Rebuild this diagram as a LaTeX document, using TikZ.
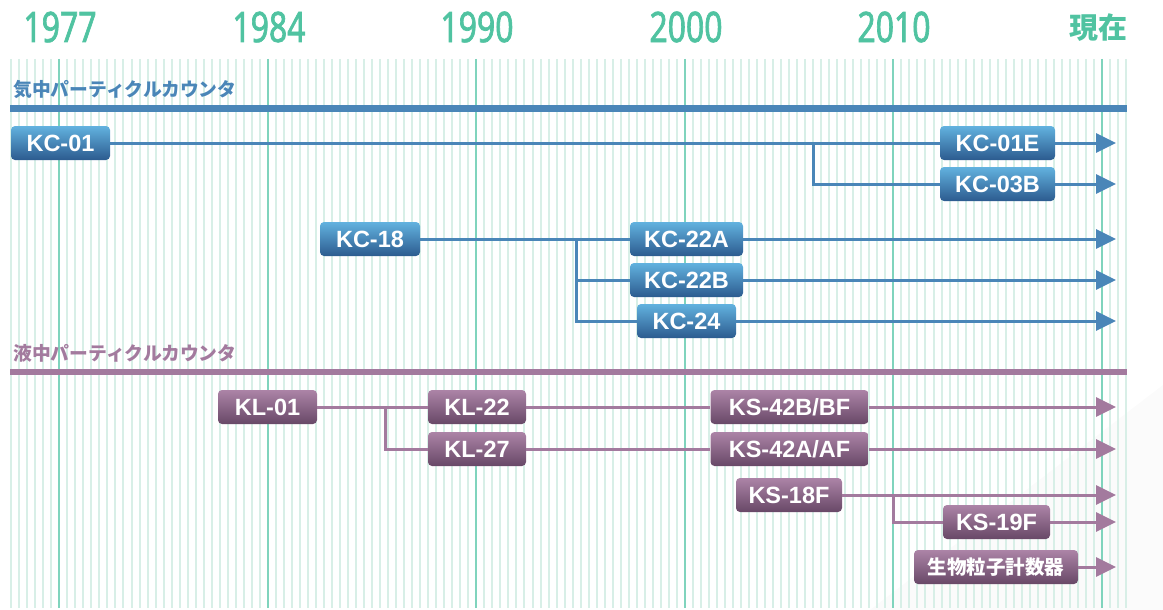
\documentclass[tikz,border=0pt]{standalone}
\usepackage{fontspec}
\setmainfont{Liberation Sans}
\newfontfamily\cjk{Noto Sans CJK JP}
\newfontfamily\yearfont[FakeStretch=0.76,FakeBold=1.6]{Noto Sans}
\usetikzlibrary{arrows.meta,positioning}

\definecolor{yeargreen}{RGB}{80,195,161}
\definecolor{gridminor}{RGB}{216,239,231}
\definecolor{gridmajor}{RGB}{128,212,189}
\definecolor{kcblue}{RGB}{74,134,184}
\definecolor{kctop}{RGB}{98,178,223}
\definecolor{kcbot}{RGB}{44,91,143}
\definecolor{klpurple}{RGB}{163,122,158}
\definecolor{kltop}{RGB}{172,132,167}
\definecolor{klbot}{RGB}{104,72,103}

\tikzset{
  box/.style={rounded corners=4pt, minimum height=34pt, inner sep=0pt,
    text=white, font=\fontsize{23.5}{23.5}\selectfont\bfseries},
  kcbox/.style={box, top color=kctop, bottom color=kcbot, minimum width=#1},
  klbox/.style={box, top color=kltop, bottom color=klbot, minimum width=#1},
  kcline/.style={draw=kcblue, line width=3pt},
  klline/.style={draw=klpurple, line width=3pt},
  tip/.style={-{Triangle[length=20pt,width=19pt]}},
  year/.style={text=yeargreen, font=\yearfont\fontsize{42}{42}\selectfont},
  head/.style={anchor=west, inner sep=0pt, font=\cjk\fontsize{18.8}{19}\selectfont\bfseries}
}

\begin{document}
\begin{tikzpicture}[x=1pt, y=-1pt]
    \useasboundingbox (0,0) rectangle (1163,610);

    % faint background wedge
    \fill[black!1.5] (1163,385) -- (1163,610) -- (870,610) -- cycle;

    % grid
    \foreach \i in {0,...,139}
        \draw[gridminor, line width=2pt] ({11.2+\i*8.02},59) -- ({11.2+\i*8.02},608);
    \foreach \i in {6,32,58,84,110,136}
        \draw[gridmajor, line width=2pt] ({11.2+\i*8.02},59) -- ({11.2+\i*8.02},608);

    % years
    \node[year] (y1977) at (60,27) {1977};
    \node[year] (y1984) at (269,27) {1984};
    \node[year] (y1990) at (477,27) {1990};
    \node[year] (y2000) at (686,27) {2000};
    \node[year] (y2010) at (894,27) {2010};
    \node[text=yeargreen, font=\cjk\fontsize{29}{29}\selectfont\bfseries] (ynow) at (1098,28) {現在};

    % section headers and bars
    \node[head, text=kcblue] (airhead) at (13,89) {気中パーティクルカウンタ};
    \draw[kcblue, line width=6.5pt] (10,108.5) -- (1127,108.5);
    \node[head, text=klpurple] (liqhead) at (13,353) {液中パーティクルカウンタ};
    \draw[klpurple, line width=6.5pt] (10,372) -- (1127,372);

    \coordinate (end) at (1116,0);

    % airborne counters
    \node[kcbox=99pt] (kc01) at (60.5,143) {KC-01};
    \node[kcbox=115pt] (kc01e) at (997.5,143) {KC-01E};
    \node[kcbox=115pt] (kc03b) at (997.5,184) {KC-03B};
    \node[kcbox=100pt] (kc18) at (370,239) {KC-18};
    \node[kcbox=113pt] (kc22a) at (686.5,239) {KC-22A};
    \node[kcbox=113pt] (kc22b) at (686.5,280) {KC-22B};
    \node[kcbox=99pt] (kc24) at (686.5,321) {KC-24};

    \coordinate (splitA) at (813,143);
    \coordinate (splitB) at (576,239);
    \draw[kcline] (kc01.east) -- (kc01e.west);
    \draw[kcline, tip] (kc01e.east) -- (kc01e.east -| end);
    \draw[kcline] (splitA) |- (kc03b.west);
    \draw[kcline, tip] (kc03b.east) -- (kc03b.east -| end);
    \draw[kcline] (kc18.east) -- (kc22a.west);
    \draw[kcline, tip] (kc22a.east) -- (kc22a.east -| end);
    \draw[kcline] (splitB) |- (kc22b.west);
    \draw[kcline] (splitB) |- (kc24.west);
    \draw[kcline, tip] (kc22b.east) -- (kc22b.east -| end);
    \draw[kcline, tip] (kc24.east) -- (kc24.east -| end);

    % liquid counters
    \node[klbox=99pt] (kl01) at (267.5,407) {KL-01};
    \node[klbox=98pt] (kl22) at (477,407) {KL-22};
    \node[klbox=98pt] (kl27) at (477,449) {KL-27};
    \node[klbox=158pt] (ks42b) at (789.5,407) {KS-42B/BF};
    \node[klbox=158pt] (ks42a) at (789.5,449) {KS-42A/AF};
    \node[klbox=106pt] (ks18f) at (789,495) {KS-18F};
    \node[klbox=107pt] (ks19f) at (996.5,522) {KS-19F};
    \node[klbox=164pt] (bio) at (996,567) {\cjk\fontsize{19.5}{20}\selectfont\bfseries 生物粒子計数器};

    \coordinate (splitC) at (385,407);
    \coordinate (splitD) at (893,495);
    \draw[klline] (kl01.east) -- (kl22.west);
    \draw[klline] (kl22.east) -- (ks42b.west);
    \draw[klline, tip] (ks42b.east) -- (ks42b.east -| end);
    \draw[klline] (splitC) |- (kl27.west);
    \draw[klline] (kl27.east) -- (ks42a.west);
    \draw[klline, tip] (ks42a.east) -- (ks42a.east -| end);
    \draw[klline, tip] (ks18f.east) -- (ks18f.east -| end);
    \draw[klline] (splitD) |- (ks19f.west);
    \draw[klline, tip] (ks19f.east) -- (ks19f.east -| end);
    \draw[klline, tip] (bio.east) -- (bio.east -| end);
\end{tikzpicture}
\end{document}
